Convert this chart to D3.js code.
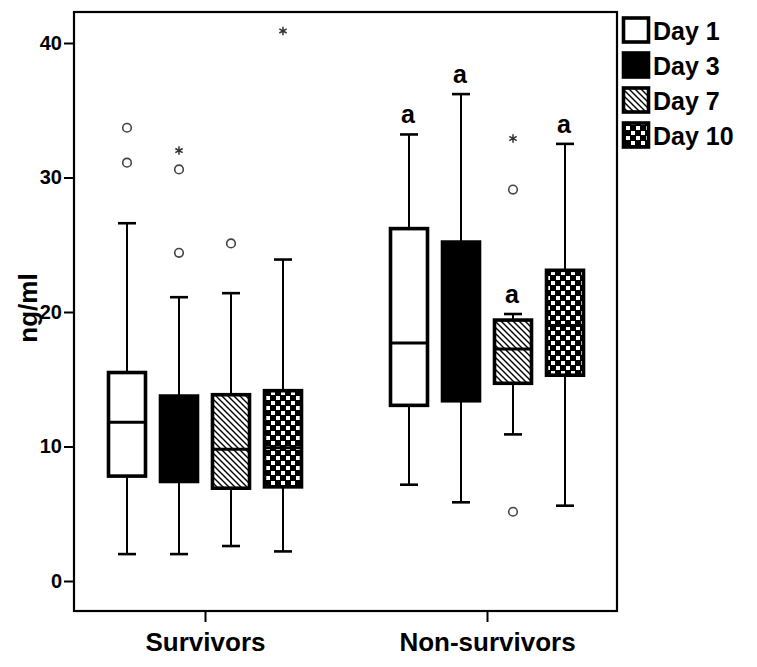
<!DOCTYPE html>
<html><head><meta charset="utf-8">
<script src="https://cdn.jsdelivr.net/npm/d3@7"></script>
<style>body{margin:0;background:#fff;}svg{display:block;font-family:"Liberation Sans",Arial,sans-serif;}</style>
</head><body>
<svg id="c" width="757" height="667"></svg>
<script>
const groups = ["Survivors", "Non-survivors"];
const days = ["Day 1", "Day 3", "Day 7", "Day 10"];
const yTicks = [0, 10, 20, 30, 40];
// [min whisker, Q1, median, Q3, max whisker] per group per day
const survivorsStats = [
  [2.0, 7.8, 11.8, 15.5, 26.6],
  [2.0, 7.4, 10.5, 13.75, 21.1],
  [2.6, 6.9, 9.8, 13.85, 21.4],
  [2.2, 7.0, 9.9, 14.15, 23.9]
];
const nonSurvivorsStats = [
  [7.16, 13.06, 17.7, 26.2, 33.2],
  [5.85, 13.4, 18.5, 25.2, 36.2],
  [10.9, 14.7, 17.25, 19.4, 19.85],
  [5.6, 15.3, 19.0, 23.1, 32.5]
];
// outliers: circles and extremes (stars)
const survivorsCircles = [[33.7, 31.1], [30.6, 24.4], [25.1], []];
const survivorsStars = [[], [32.0], [], [40.9]];
const nonSurvivorsCircles = [[], [], [29.1, 5.15], []];
const nonSurvivorsStars = [[], [], [32.9], []];
const nonSurvivorsMarks = ["a", "a", "a", "a"];

const stats = [survivorsStats, nonSurvivorsStats];
const circles = [survivorsCircles, nonSurvivorsCircles];
const stars = [survivorsStars, nonSurvivorsStars];
const marks = [[null, null, null, null], nonSurvivorsMarks];

const svg = d3.select("#c");
const frame = {left: 74, right: 617, top: 12, bottom: 611};
const y = d3.scaleLinear().domain([0, 40]).range([581, 43]);
const xg = d3.scalePoint().domain(groups).range([205, 487]);
const xd = d3.scalePoint().domain(days).range([-78, 78]);
const boxW = 40, capW = 18;

const defs = svg.append("defs");
const hatch = defs.append("pattern").attr("id", "hatch").attr("patternUnits", "userSpaceOnUse")
  .attr("width", 6).attr("height", 6);
hatch.append("rect").attr("width", 6).attr("height", 6).attr("fill", "#fff");
hatch.append("path").attr("d", "M-1,-1L7,7M-4,2L2,8M4,-2L8,2").attr("stroke", "#000").attr("stroke-width", 1.4);
const checker = defs.append("pattern").attr("id", "checker").attr("patternUnits", "userSpaceOnUse")
  .attr("width", 10).attr("height", 10);
checker.append("rect").attr("width", 10).attr("height", 10).attr("fill", "#000");
checker.append("rect").attr("x", 1).attr("y", 1).attr("width", 4).attr("height", 4).attr("fill", "#fff");
checker.append("rect").attr("x", 6).attr("y", 6).attr("width", 4).attr("height", 4).attr("fill", "#fff");
const fills = ["#fff", "#000", "url(#hatch)", "url(#checker)"];

// frame
svg.append("rect").attr("x", frame.left).attr("y", frame.top)
  .attr("width", frame.right - frame.left).attr("height", frame.bottom - frame.top)
  .attr("fill", "none").attr("stroke", "#000").attr("stroke-width", 2.2);

// y axis
const yAxis = d3.axisLeft(y).tickValues(yTicks).tickSize(10).tickPadding(2);
const ya = svg.append("g").attr("transform", `translate(${frame.left},0)`).call(yAxis);
ya.select(".domain").remove();
ya.selectAll("line").attr("stroke", "#000").attr("stroke-width", 2);
ya.selectAll("text").attr("font-size", 20).attr("font-weight", "bold").attr("fill", "#000")
  .attr("font-family", "Liberation Sans, Arial, sans-serif");

// x axis
const xAxis = d3.axisBottom(xg).tickSize(11).tickPadding(11);
const xa = svg.append("g").attr("transform", `translate(0,${frame.bottom})`).call(xAxis);
xa.select(".domain").remove();
xa.selectAll("line").attr("stroke", "#000").attr("stroke-width", 2);
xa.selectAll("text").attr("font-size", 26).attr("font-weight", "bold").attr("fill", "#000")
  .attr("font-family", "Liberation Sans, Arial, sans-serif");

// y label
svg.append("text").attr("transform", `translate(37,308) rotate(-90)`)
  .attr("text-anchor", "middle").attr("font-size", 26).attr("font-weight", "bold").text("ng/ml");

// boxes
groups.forEach((g, gi) => {
  days.forEach((d, di) => {
    const s = stats[gi][di];
    const cx = xg(g) + xd(d);
    const gg = svg.append("g");
    // whiskers
    gg.append("line").attr("x1", cx).attr("x2", cx).attr("y1", y(s[0])).attr("y2", y(s[1]))
      .attr("stroke", "#000").attr("stroke-width", 2);
    gg.append("line").attr("x1", cx).attr("x2", cx).attr("y1", y(s[3])).attr("y2", y(s[4]))
      .attr("stroke", "#000").attr("stroke-width", 2);
    [s[0], s[4]].forEach(v => gg.append("line").attr("x1", cx - capW / 2).attr("x2", cx + capW / 2)
      .attr("y1", y(v)).attr("y2", y(v)).attr("stroke", "#000").attr("stroke-width", 2.6));
    gg.append("rect").attr("x", cx - boxW / 2 + 1.5).attr("y", y(s[3]))
      .attr("width", boxW - 3).attr("height", y(s[1]) - y(s[3]))
      .attr("fill", fills[di]).attr("stroke", "#000").attr("stroke-width", 3.6);
    gg.append("line").attr("x1", cx - boxW / 2 + 1.5).attr("x2", cx + boxW / 2 - 1.5)
      .attr("y1", y(s[2])).attr("y2", y(s[2])).attr("stroke", "#000").attr("stroke-width", 3);
    circles[gi][di].forEach(v => gg.append("circle").attr("cx", cx).attr("cy", y(v)).attr("r", 4.3)
      .attr("fill", "#fff").attr("stroke", "#444").attr("stroke-width", 1.6));
    stars[gi][di].forEach(v => gg.append("path")
      .attr("transform", `translate(${cx},${y(v)})`)
      .attr("d", d3.symbol(d3.symbolAsterisk, 50)())
      .attr("fill", "none").attr("stroke", "#333").attr("stroke-width", 1.5));
    if (marks[gi][di]) {
      gg.append("text").attr("x", cx - 1).attr("y", y(s[4]) - 11).attr("text-anchor", "middle")
        .attr("font-size", 25).attr("font-weight", "bold").attr("font-family", "Liberation Sans, Arial, sans-serif")
        .text(marks[gi][di]);
    }
  });
});

// legend
const lg = svg.append("g");
days.forEach((d, i) => {
  const yy = 18 + i * 35;
  lg.append("rect").attr("x", 623.5).attr("y", yy).attr("width", 25).attr("height", 24)
    .attr("fill", fills[i]).attr("stroke", "#000").attr("stroke-width", 3.6);
  lg.append("text").attr("x", 653).attr("y", yy + 22).attr("font-size", 25).attr("font-weight", "bold")
    .text(d);
});
</script>
</body></html>
